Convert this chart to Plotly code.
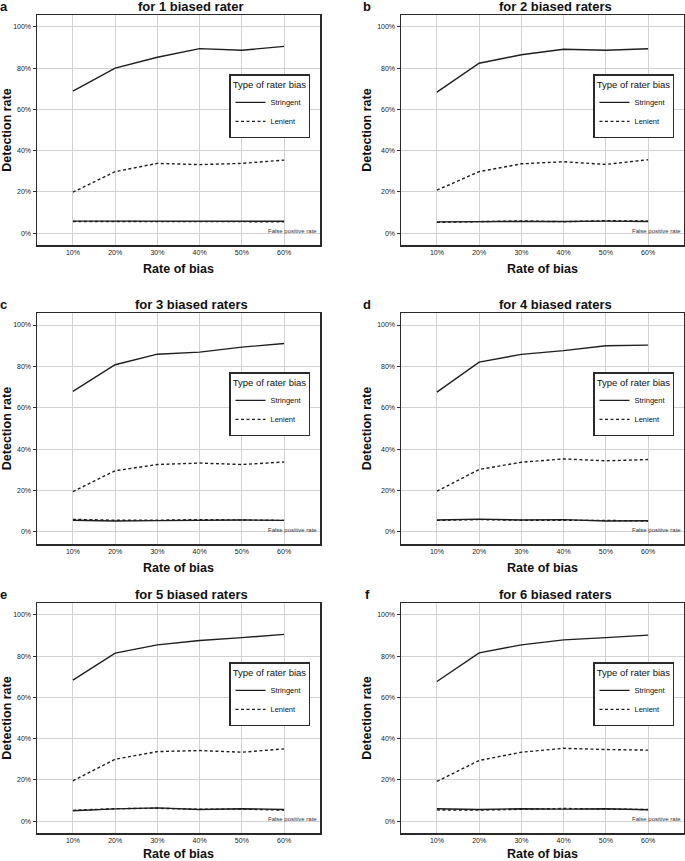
import plotly.graph_objects as go
from plotly.subplots import make_subplots

rate_of_bias = [10, 20, 30, 40, 50, 60]
x_tick_labels = ["10%", "20%", "30%", "40%", "50%", "60%"]
y_tick_values = [0, 20, 40, 60, 80, 100]
y_tick_labels = ["0%", "20%", "40%", "60%", "80%", "100%"]

panel_letters = ["a", "b", "c", "d", "e", "f"]
panel_titles = ["for 1 biased rater", "for 2 biased raters", "for 3 biased raters",
                "for 4 biased raters", "for 5 biased raters", "for 6 biased raters"]

stringent_a = [68.9, 80.0, 85.3, 89.5, 88.7, 90.6]
lenient_a = [19.8, 29.8, 33.8, 33.2, 33.8, 35.4]
fpr_stringent_a = [5.8, 5.8, 5.7, 5.8, 5.8, 5.7]
fpr_lenient_a = [5.6, 5.6, 5.5, 5.6, 5.3, 5.5]

stringent_b = [68.4, 82.4, 86.5, 89.2, 88.7, 89.4]
lenient_b = [20.8, 29.8, 33.6, 34.6, 33.3, 35.6]
fpr_stringent_b = [5.4, 5.6, 5.6, 5.6, 5.8, 5.6]
fpr_lenient_b = [5.2, 5.4, 5.9, 5.5, 6.0, 5.8]

stringent_c = [67.9, 80.8, 85.9, 86.9, 89.3, 91.1]
lenient_c = [19.5, 29.6, 32.6, 33.3, 32.6, 33.8]
fpr_stringent_c = [5.7, 5.3, 5.5, 5.7, 5.8, 5.6]
fpr_lenient_c = [6.1, 5.7, 5.7, 6.0, 5.8, 5.6]

stringent_d = [67.6, 82.1, 85.8, 87.6, 90.0, 90.3]
lenient_d = [19.7, 30.2, 33.7, 35.3, 34.4, 35.0]
fpr_stringent_d = [5.8, 6.2, 5.8, 6.0, 5.3, 5.4]
fpr_lenient_d = [5.6, 6.0, 5.7, 5.8, 5.6, 5.3]

stringent_e = [68.4, 81.5, 85.5, 87.6, 89.0, 90.6]
lenient_e = [19.5, 30.0, 33.7, 34.2, 33.4, 35.0]
fpr_stringent_e = [5.0, 5.9, 6.4, 5.6, 6.0, 5.6]
fpr_lenient_e = [5.2, 6.0, 6.2, 5.7, 5.8, 5.3]

stringent_f = [67.7, 81.6, 85.5, 87.9, 89.0, 90.2]
lenient_f = [19.2, 29.4, 33.4, 35.3, 34.7, 34.4]
fpr_stringent_f = [6.0, 5.6, 6.0, 5.8, 6.0, 5.5]
fpr_lenient_f = [5.4, 5.3, 5.7, 6.1, 5.8, 5.6]

panels = [
    (stringent_a, lenient_a, fpr_stringent_a, fpr_lenient_a),
    (stringent_b, lenient_b, fpr_stringent_b, fpr_lenient_b),
    (stringent_c, lenient_c, fpr_stringent_c, fpr_lenient_c),
    (stringent_d, lenient_d, fpr_stringent_d, fpr_lenient_d),
    (stringent_e, lenient_e, fpr_stringent_e, fpr_lenient_e),
    (stringent_f, lenient_f, fpr_stringent_f, fpr_lenient_f),
]

W, H = 685, 861
FONT = "Liberation Sans, Arial, sans-serif"
LINE = "#1e1e1e"
DASH = "3px,2.5px"

col_px = [(37, 320), (401, 684)]
row_px = [(15, 245), (313, 544), (603, 833)]

fig = make_subplots(rows=3, cols=2, horizontal_spacing=0.05, vertical_spacing=0.05)

for i, (s, l, fs, fl) in enumerate(panels):
    r, c = i // 2 + 1, i % 2 + 1
    leg = "legend" if i == 0 else f"legend{i + 1}"
    fig.add_trace(go.Scatter(x=rate_of_bias, y=s, mode="lines", name="Stringent",
                             line=dict(color=LINE, width=1.4), legend=leg,
                             showlegend=True), row=r, col=c)
    fig.add_trace(go.Scatter(x=rate_of_bias, y=l, mode="lines", name="Lenient",
                             line=dict(color=LINE, width=1.4, dash=DASH), legend=leg,
                             showlegend=True), row=r, col=c)
    fig.add_trace(go.Scatter(x=rate_of_bias, y=fs, mode="lines", name="Stringent",
                             line=dict(color=LINE, width=1.4), legend=leg,
                             showlegend=False), row=r, col=c)
    fig.add_trace(go.Scatter(x=rate_of_bias, y=fl, mode="lines", name="Lenient",
                             line=dict(color=LINE, width=1.4, dash=DASH), legend=leg,
                             showlegend=False), row=r, col=c)

layout_updates = {}
annotations = []
for i in range(6):
    r, c = i // 2, i % 2
    x0, x1 = col_px[c]
    y0, y1 = row_px[r]
    xa = "xaxis" if i == 0 else f"xaxis{i + 1}"
    ya = "yaxis" if i == 0 else f"yaxis{i + 1}"
    xref = "x" if i == 0 else f"x{i + 1}"
    yref = "y" if i == 0 else f"y{i + 1}"
    layout_updates[xa] = dict(
        domain=[x0 / W, x1 / W], range=[1.5, 68.5],
        tickvals=rate_of_bias, ticktext=x_tick_labels,
        ticks="", tickfont=dict(size=7, color="#222", family=FONT),
        showgrid=True, gridcolor="#d2d2d2", gridwidth=1, zeroline=False,
        showline=True, mirror=True, linecolor="#2a2a2a", linewidth=1.5,
        title=dict(text="<b>Rate of bias</b>", font=dict(size=12.5, color="#111", family=FONT),
                   standoff=9),
        fixedrange=True,
    )
    layout_updates[ya] = dict(
        domain=[1 - y1 / H, 1 - y0 / H], range=[-5.8, 105.8],
        tickvals=y_tick_values, ticktext=y_tick_labels,
        ticks="outside", ticklen=3, tickcolor="#333", tickwidth=1,
        tickfont=dict(size=7, color="#222", family=FONT),
        showgrid=True, gridcolor="#d2d2d2", gridwidth=1, zeroline=False,
        showline=True, mirror=True, linecolor="#2a2a2a", linewidth=1.5,
        title=dict(text="<b>Detection rate</b>", font=dict(size=12.5, color="#111", family=FONT),
                   standoff=3),
        fixedrange=True,
    )
    leg = "legend" if i == 0 else f"legend{i + 1}"
    layout_updates[leg] = dict(
        x=(x1 - 10) / W, xanchor="right", y=1 - (y0 + 59) / H, yanchor="top",
        bgcolor="white", bordercolor="#2a2a2a", borderwidth=1.5,
        font=dict(size=7.5, color="#111", family=FONT),
        title=dict(text="Type of rater bias", side="top center",
                   font=dict(size=9.5, color="#111", family=FONT)),
        itemwidth=30, tracegroupgap=0, itemclick=False, itemdoubleclick=False,
    )
    annotations.append(dict(
        xref=f"{xref} domain", yref=yref, x=0.995, y=1.2, xanchor="right", yanchor="middle",
        text="False positive rate", showarrow=False,
        font=dict(size=6, color="#333", family=FONT),
    ))
    annotations.append(dict(
        xref=f"{xref} domain", yref="paper", x=0.545, y=1 - (y0 - 9) / H,
        xanchor="center", yanchor="middle", text=f"<b>{panel_titles[i]}</b>",
        showarrow=False, font=dict(size=13, color="#111", family=FONT),
    ))
    annotations.append(dict(
        xref="paper", yref="paper", x=(4 if c == 0 else 367) / W, y=1 - (y0 - 9) / H,
        xanchor="center", yanchor="middle", text=f"<b>{panel_letters[i]}</b>",
        showarrow=False, font=dict(size=13, color="#111", family=FONT),
    ))

fig.update_layout(**layout_updates)
fig.update_layout(
    width=W, height=H,
    margin=dict(l=0, r=0, t=0, b=0),
    paper_bgcolor="white", plot_bgcolor="white",
    font=dict(family=FONT, color="#111"),
    annotations=annotations,
    hovermode=False,
)

fig.write_html("out.html", config={"displayModeBar": False, "staticPlot": True},
               post_script="document.body.style.margin='0';document.body.style.padding='0';")
